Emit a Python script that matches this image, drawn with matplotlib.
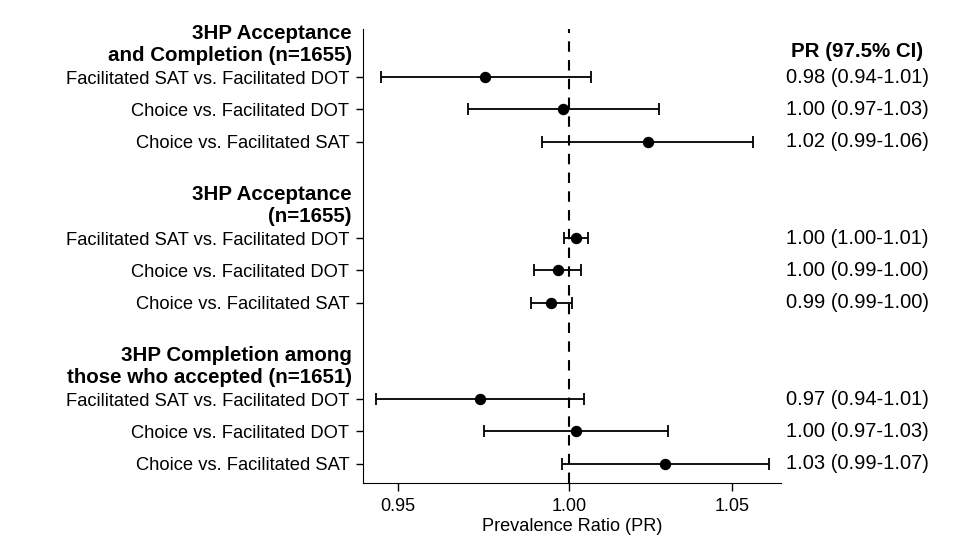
import numpy as np
import matplotlib
matplotlib.use("Agg")
import matplotlib.pyplot as plt
from matplotlib.ticker import FixedLocator, FixedFormatter, NullLocator

# ──────────────────────────────────────────────
# data
# ──────────────────────────────────────────────
GROUPS = [
    "3HP Acceptance\nand Completion (n=1655)",
    "3HP Acceptance\n(n=1655)",
    "3HP Completion among\nthose who accepted (n=1651)",
]
COMPARISONS = [
    "Facilitated SAT vs. Facilitated DOT",
    "Choice vs. Facilitated DOT",
    "Choice vs. Facilitated SAT",
]
PR = [0.975, 0.998, 1.024,
      1.002, 0.9965, 0.9945,
      0.9736, 1.002, 1.029]
CI_LOW = [0.945, 0.970, 0.992,
          0.9983, 0.9895, 0.9886,
          0.9436, 0.9747, 0.9978]
CI_HIGH = [1.0064, 1.0273, 1.0568,
           1.0056, 1.0035, 1.0007,
           1.0044, 1.030, 1.0617]
PR_TEXT = ["0.98 (0.94-1.01)", "1.00 (0.97-1.03)", "1.02 (0.99-1.06)",
           "1.00 (1.00-1.01)", "1.00 (0.99-1.00)", "0.99 (0.99-1.00)",
           "0.97 (0.94-1.01)", "1.00 (0.97-1.03)", "1.03 (0.99-1.07)"]
X_TICKS = [0.95, 1.00, 1.05]
X_TICK_LABELS = ["0.95", "1.00", "1.05"]

plt.rcParams["font.family"] = ["Liberation Sans", "DejaVu Sans"]

# layout: 3 rows per group, 2 empty slots for each header
ypos, labels = [], []
for g in range(len(GROUPS)):
    for i, c in enumerate(COMPARISONS):
        ypos.append(g * 5 + i)
        labels.append(c)
ypos = np.array(ypos)

fig = plt.figure(figsize=(9.72, 5.52), dpi=100)
ax = fig.add_axes([0.3735, 0.125, 0.4297, 0.8225])

pr = np.array(PR)
err = np.vstack([pr - np.array(CI_LOW), np.array(CI_HIGH) - pr])
ax.errorbar(pr, ypos, xerr=err, fmt="o", color="black", ms=7.2,
            elinewidth=1.3, capsize=4, capthick=1.3, zorder=3)
ax.axvline(1.0, color="black", lw=1.5, ls=(0, (5, 4)), zorder=2)

ax.set_xscale("log")
ax.set_xlim(0.94, 1.0655)
ax.set_ylim(12.6, -1.5)
ax.xaxis.set_major_locator(FixedLocator(X_TICKS))
ax.xaxis.set_major_formatter(FixedFormatter(X_TICK_LABELS))
ax.xaxis.set_minor_locator(NullLocator())
ax.set_yticks(ypos)
ax.set_yticklabels(labels, fontsize=13.2)
ax.tick_params(axis="x", labelsize=13, length=6, width=1, pad=5)
ax.tick_params(axis="y", length=5, width=1, pad=5)
ax.set_xlabel("Prevalence Ratio (PR)", fontsize=13.1, labelpad=2)
ax.spines[["top", "right"]].set_visible(False)

ytr = ax.get_yaxis_transform()
for g, name in enumerate(GROUPS):
    ax.text(-0.027, g * 5 - 1.02, name, transform=ytr, ha="right", va="center",
            fontsize=14.8, fontweight="bold", linespacing=1.15)

ax.text(1.183, -0.8, "PR (97.5% CI)", transform=ytr, ha="center", va="center",
        fontsize=14.8, fontweight="bold")
for y, t in zip(ypos, PR_TEXT):
    ax.text(1.183, y, t, transform=ytr, ha="center", va="center", fontsize=14.5)

fig.savefig("out.png", dpi=100)
